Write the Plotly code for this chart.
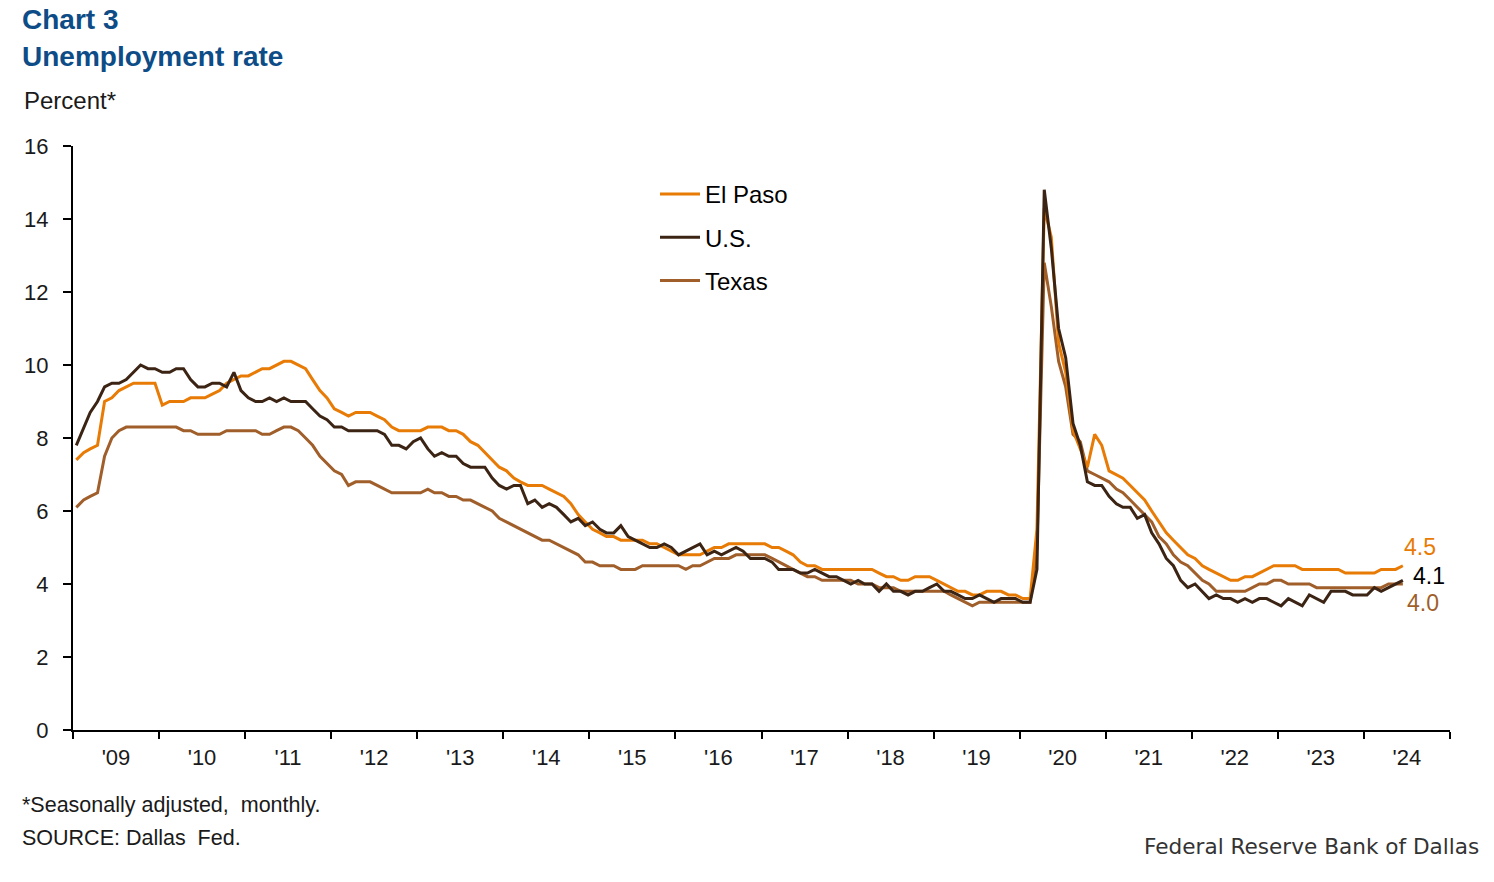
import pandas as pd
import plotly.graph_objects as go

# ---- Data (monthly, Jan 2009 - Jun 2024, percent, seasonally adjusted) ----
start_month = "2009-01-01"
n_months = 186

el_paso = [
    7.4, 7.6, 7.7, 7.8, 9.0, 9.1, 9.3, 9.4, 9.5, 9.5, 9.5, 9.5,      # 2009
    8.9, 9.0, 9.0, 9.0, 9.1, 9.1, 9.1, 9.2, 9.3, 9.5, 9.6, 9.7,      # 2010
    9.7, 9.8, 9.9, 9.9, 10.0, 10.1, 10.1, 10.0, 9.9, 9.6, 9.3, 9.1,  # 2011
    8.8, 8.7, 8.6, 8.7, 8.7, 8.7, 8.6, 8.5, 8.3, 8.2, 8.2, 8.2,      # 2012
    8.2, 8.3, 8.3, 8.3, 8.2, 8.2, 8.1, 7.9, 7.8, 7.6, 7.4, 7.2,      # 2013
    7.1, 6.9, 6.8, 6.7, 6.7, 6.7, 6.6, 6.5, 6.4, 6.2, 5.9, 5.7,      # 2014
    5.5, 5.4, 5.3, 5.3, 5.2, 5.2, 5.2, 5.2, 5.1, 5.1, 5.0, 4.9,      # 2015
    4.8, 4.8, 4.8, 4.8, 4.9, 5.0, 5.0, 5.1, 5.1, 5.1, 5.1, 5.1,      # 2016
    5.1, 5.0, 5.0, 4.9, 4.8, 4.6, 4.5, 4.5, 4.4, 4.4, 4.4, 4.4,      # 2017
    4.4, 4.4, 4.4, 4.4, 4.3, 4.2, 4.2, 4.1, 4.1, 4.2, 4.2, 4.2,      # 2018
    4.1, 4.0, 3.9, 3.8, 3.8, 3.7, 3.7, 3.8, 3.8, 3.8, 3.7, 3.7,      # 2019
    3.6, 3.6, 5.5, 14.3, 13.5, 10.6, 9.8, 8.2, 7.7, 7.2, 8.1, 7.8,   # 2020
    7.1, 7.0, 6.9, 6.7, 6.5, 6.3, 6.0, 5.7, 5.4, 5.2, 5.0, 4.8,      # 2021
    4.7, 4.5, 4.4, 4.3, 4.2, 4.1, 4.1, 4.2, 4.2, 4.3, 4.4, 4.5,      # 2022
    4.5, 4.5, 4.5, 4.4, 4.4, 4.4, 4.4, 4.4, 4.4, 4.3, 4.3, 4.3,      # 2023
    4.3, 4.3, 4.4, 4.4, 4.4, 4.5,                                    # 2024
]

us = [
    7.8, 8.3, 8.7, 9.0, 9.4, 9.5, 9.5, 9.6, 9.8, 10.0, 9.9, 9.9,     # 2009
    9.8, 9.8, 9.9, 9.9, 9.6, 9.4, 9.4, 9.5, 9.5, 9.4, 9.8, 9.3,      # 2010
    9.1, 9.0, 9.0, 9.1, 9.0, 9.1, 9.0, 9.0, 9.0, 8.8, 8.6, 8.5,      # 2011
    8.3, 8.3, 8.2, 8.2, 8.2, 8.2, 8.2, 8.1, 7.8, 7.8, 7.7, 7.9,      # 2012
    8.0, 7.7, 7.5, 7.6, 7.5, 7.5, 7.3, 7.2, 7.2, 7.2, 6.9, 6.7,      # 2013
    6.6, 6.7, 6.7, 6.2, 6.3, 6.1, 6.2, 6.1, 5.9, 5.7, 5.8, 5.6,      # 2014
    5.7, 5.5, 5.4, 5.4, 5.6, 5.3, 5.2, 5.1, 5.0, 5.0, 5.1, 5.0,      # 2015
    4.8, 4.9, 5.0, 5.1, 4.8, 4.9, 4.8, 4.9, 5.0, 4.9, 4.7, 4.7,      # 2016
    4.7, 4.6, 4.4, 4.4, 4.4, 4.3, 4.3, 4.4, 4.3, 4.2, 4.2, 4.1,      # 2017
    4.0, 4.1, 4.0, 4.0, 3.8, 4.0, 3.8, 3.8, 3.7, 3.8, 3.8, 3.9,      # 2018
    4.0, 3.8, 3.8, 3.7, 3.6, 3.6, 3.7, 3.6, 3.5, 3.6, 3.6, 3.6,      # 2019
    3.5, 3.5, 4.4, 14.8, 13.2, 11.0, 10.2, 8.4, 7.8, 6.8, 6.7, 6.7,  # 2020
    6.4, 6.2, 6.1, 6.1, 5.8, 5.9, 5.4, 5.1, 4.7, 4.5, 4.1, 3.9,      # 2021
    4.0, 3.8, 3.6, 3.7, 3.6, 3.6, 3.5, 3.6, 3.5, 3.6, 3.6, 3.5,      # 2022
    3.4, 3.6, 3.5, 3.4, 3.7, 3.6, 3.5, 3.8, 3.8, 3.8, 3.7, 3.7,      # 2023
    3.7, 3.9, 3.8, 3.9, 4.0, 4.1,                                    # 2024
]

texas = [
    6.1, 6.3, 6.4, 6.5, 7.5, 8.0, 8.2, 8.3, 8.3, 8.3, 8.3, 8.3,      # 2009
    8.3, 8.3, 8.3, 8.2, 8.2, 8.1, 8.1, 8.1, 8.1, 8.2, 8.2, 8.2,      # 2010
    8.2, 8.2, 8.1, 8.1, 8.2, 8.3, 8.3, 8.2, 8.0, 7.8, 7.5, 7.3,      # 2011
    7.1, 7.0, 6.7, 6.8, 6.8, 6.8, 6.7, 6.6, 6.5, 6.5, 6.5, 6.5,      # 2012
    6.5, 6.6, 6.5, 6.5, 6.4, 6.4, 6.3, 6.3, 6.2, 6.1, 6.0, 5.8,      # 2013
    5.7, 5.6, 5.5, 5.4, 5.3, 5.2, 5.2, 5.1, 5.0, 4.9, 4.8, 4.6,      # 2014
    4.6, 4.5, 4.5, 4.5, 4.4, 4.4, 4.4, 4.5, 4.5, 4.5, 4.5, 4.5,      # 2015
    4.5, 4.4, 4.5, 4.5, 4.6, 4.7, 4.7, 4.7, 4.8, 4.8, 4.8, 4.8,      # 2016
    4.8, 4.7, 4.6, 4.5, 4.4, 4.3, 4.2, 4.2, 4.1, 4.1, 4.1, 4.1,      # 2017
    4.1, 4.0, 4.0, 4.0, 3.9, 3.9, 3.9, 3.8, 3.8, 3.8, 3.8, 3.8,      # 2018
    3.8, 3.8, 3.7, 3.6, 3.5, 3.4, 3.5, 3.5, 3.5, 3.5, 3.5, 3.5,      # 2019
    3.5, 3.5, 5.0, 12.8, 11.6, 10.1, 9.4, 8.1, 7.9, 7.1, 7.0, 6.9,   # 2020
    6.8, 6.6, 6.5, 6.3, 6.1, 5.9, 5.7, 5.3, 5.1, 4.8, 4.6, 4.5,      # 2021
    4.3, 4.1, 4.0, 3.8, 3.8, 3.8, 3.8, 3.8, 3.9, 4.0, 4.0, 4.1,      # 2022
    4.1, 4.0, 4.0, 4.0, 4.0, 3.9, 3.9, 3.9, 3.9, 3.9, 3.9, 3.9,      # 2023
    3.9, 3.9, 3.9, 4.0, 4.0, 4.0,                                    # 2024
]

series_names = ["El Paso", "U.S.", "Texas"]
y_ticks = [0, 2, 4, 6, 8, 10, 12, 14, 16]

# Points are plotted mid-month
dates = pd.date_range(start=start_month, periods=n_months, freq="MS") + pd.Timedelta(days=14)

# ---- Styling ----
C_EP = "#E87B05"
C_US = "#3C2414"
C_TX = "#A05F2A"
TITLE_BLUE = "#0D4C86"
TXT = "#1a1a1a"
FONT = "Arial, Liberation Sans, sans-serif"

W, H = 1494, 882
PL, PR, PT, PB = 73, 1450, 146, 730


def pxx(px):
    return (px - PL) / (PR - PL)


def pxy(py):
    return (PB - py) / (PB - PT)


fig = go.Figure()

trace_specs = [
    (series_names[2], texas, C_TX, 3),
    (series_names[0], el_paso, C_EP, 1),
    (series_names[1], us, C_US, 2),
]
for name, vals, col, rank in trace_specs:
    fig.add_trace(go.Scatter(
        x=dates, y=vals, name=name, mode="lines",
        line=dict(color=col, width=3),
        legendrank=rank, legendgroup=name,
        hoverinfo="skip",
    ))

# End-of-series value labels
end_labels = [
    (el_paso, C_EP, -1, 19),
    (us, "#000000", 8, 4),
    (texas, C_TX, 2, -19),
]
annotations = []
for vals, col, xs, ys in end_labels:
    annotations.append(dict(
        x=dates[-1], y=vals[-1], xref="x", yref="y",
        text=f"{vals[-1]:.1f}", showarrow=False,
        xanchor="left", yanchor="middle", xshift=xs, yshift=ys,
        font=dict(family=FONT, size=23, color=col),
    ))

# Titles and notes
annotations += [
    dict(x=pxx(20), y=pxy(20), xref="paper", yref="paper", text="<b>Chart 3</b>",
         showarrow=False, xanchor="left", yanchor="middle",
         font=dict(family=FONT, size=28, color=TITLE_BLUE)),
    dict(x=pxx(20), y=pxy(57), xref="paper", yref="paper", text="<b>Unemployment rate</b>",
         showarrow=False, xanchor="left", yanchor="middle",
         font=dict(family=FONT, size=28, color=TITLE_BLUE)),
    dict(x=pxx(22), y=pxy(100), xref="paper", yref="paper", text="Percent*",
         showarrow=False, xanchor="left", yanchor="middle",
         font=dict(family=FONT, size=24, color=TXT)),
    dict(x=pxx(20), y=pxy(805), xref="paper", yref="paper",
         text="*Seasonally adjusted,  monthly.",
         showarrow=False, xanchor="left", yanchor="middle",
         font=dict(family=FONT, size=21.5, color=TXT)),
    dict(x=pxx(20), y=pxy(838), xref="paper", yref="paper",
         text="SOURCE: Dallas  Fed.",
         showarrow=False, xanchor="left", yanchor="middle",
         font=dict(family=FONT, size=21.5, color=TXT)),
    dict(x=pxx(1481), y=pxy(846), xref="paper", yref="paper",
         text="Federal Reserve Bank of Dallas",
         showarrow=False, xanchor="right", yanchor="middle",
         font=dict(family="DejaVu Sans, sans-serif", size=21.6, color="#333333")),
]

fig.update_layout(
    width=W, height=H,
    margin=dict(l=PL, r=W - PR, t=PT, b=H - PB, pad=0),
    paper_bgcolor="white", plot_bgcolor="white",
    font=dict(family=FONT, size=22, color=TXT),
    showlegend=True,
    legend=dict(
        x=pxx(655), y=pxy(172), xanchor="left", yanchor="top",
        bgcolor="rgba(0,0,0,0)", borderwidth=0,
        font=dict(family=FONT, size=24, color="#000000"),
        traceorder="grouped", tracegroupgap=9, itemwidth=40,
    ),
    annotations=annotations,
)

fig.update_xaxes(
    type="date",
    range=["2009-01-01", "2025-01-01"],
    tick0="2009-01-01", dtick="M12",
    ticklabelmode="period", tickformat="'%y",
    ticks="outside", ticklen=7, tickwidth=2, tickcolor="#000000",
    showline=True, linecolor="#000000", linewidth=2,
    showgrid=False, zeroline=False,
    tickfont=dict(family=FONT, size=22, color=TXT),
)
fig.update_yaxes(
    range=[0, 16], tickvals=y_ticks,
    ticks="outside", ticklen=8, tickwidth=2, tickcolor="#000000",
    showline=True, linecolor="#000000", linewidth=2,
    showgrid=False, zeroline=False,
    ticklabelstandoff=10,
    tickfont=dict(family=FONT, size=22, color=TXT),
)

fig.write_html(
    "out.html",
    config={"displayModeBar": False},
    post_script="document.body.style.margin='0px';document.body.style.padding='0px';",
)
